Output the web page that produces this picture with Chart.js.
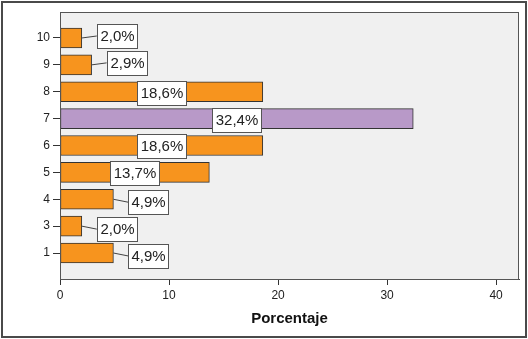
<!DOCTYPE html>
<html>
<head>
<meta charset="utf-8">
<script src="https://cdn.jsdelivr.net/npm/chart.js@4"></script>
<style>
  html, body { margin: 0; padding: 0; background: #fff; }
  #wrap { width: 528px; height: 339px; }
</style>
</head>
<body>
<div id="wrap"><canvas id="chart" width="528" height="339"></canvas></div>
<script>
// datos
const categorias = ["10", "9", "8", "7", "6", "5", "4", "3", "1"];
const porcentajes = [2.0, 2.9, 18.6, 32.4, 18.6, 13.7, 4.9, 2.0, 4.9];
const ticksX = [0, 10, 20, 30, 40];
const destacada = "7";

const NARANJA = "#F7941E";
const LILA = "#B899C8";
const FUENTE = "'Liberation Sans', Arial, sans-serif";

// fondo gris del área y marco exterior
const marcoPlugin = {
  id: "marco",
  beforeDraw(chart) {
    const { ctx, chartArea: a } = chart;
    ctx.save();
    ctx.fillStyle = "#F0F0F0";
    ctx.fillRect(a.left, a.top, a.right - a.left, a.bottom - a.top);
    ctx.restore();
  },
  afterDraw(chart) {
    const { ctx, chartArea: a } = chart;
    ctx.save();
    ctx.strokeStyle = "#555";
    ctx.lineWidth = 1;
    ctx.strokeRect(a.left + 0.5, a.top + 0.5, a.right - a.left - 1, a.bottom - a.top);
    ctx.lineWidth = 2;
    ctx.strokeStyle = "#4a4a4a";
    ctx.strokeRect(2, 2, chart.width - 4, chart.height - 4);
    ctx.restore();
  }
};

// etiquetas de porcentaje en cajas blancas
const etiquetasPlugin = {
  id: "etiquetas",
  afterDatasetsDraw(chart) {
    const { ctx } = chart;
    const meta = chart.getDatasetMeta(0);
    ctx.save();
    ctx.font = "15px " + FUENTE;
    ctx.textAlign = "center";
    ctx.textBaseline = "middle";
    meta.data.forEach((bar, i) => {
      const v = porcentajes[i];
      const txt = v.toFixed(1).replace(".", ",") + "%";
      const w = Math.round(ctx.measureText(txt).width) + 6;
      const h = 24;
      let cx, cy;
      if (v >= 10) {
        cx = (bar.x + bar.base) / 2;
        cy = bar.y + 1;
      } else {
        // etiqueta fuera de la barra con línea guía
        const dy = i < 4 ? -2 : 3;
        cx = bar.x + 15 + w / 2;
        cy = bar.y + dy;
        ctx.strokeStyle = "#444";
        ctx.lineWidth = 1;
        ctx.beginPath();
        ctx.moveTo(bar.x, bar.y);
        ctx.lineTo(cx - w / 2, cy);
        ctx.stroke();
      }
      const x0 = Math.round(cx - w / 2) + 0.5;
      const y0 = Math.round(cy - h / 2) + 0.5;
      ctx.fillStyle = "#fff";
      ctx.fillRect(x0, y0, w, h);
      ctx.strokeStyle = "#555";
      ctx.lineWidth = 1;
      ctx.strokeRect(x0, y0, w, h);
      ctx.fillStyle = "#222";
      ctx.fillText(txt, x0 + w / 2, y0 + h / 2 + 0.5);
    });
    ctx.restore();
  }
};

const puntos = porcentajes.map((v, i) => ({ x: v, y: i }));
const colores = categorias.map((c) => (c === destacada ? LILA : NARANJA));

new Chart(document.getElementById("chart"), {
  type: "bar",
  data: {
    labels: categorias,
    datasets: [{
      data: puntos,
      backgroundColor: colores,
      borderColor: "#333",
      borderWidth: 1,
      borderSkipped: false,
      barThickness: 20
    }]
  },
  options: {
    indexAxis: "y",
    responsive: false,
    animation: false,
    layout: { padding: { top: 12, right: 9, left: 0, bottom: 0 } },
    plugins: { legend: { display: false }, tooltip: { enabled: false } },
    scales: {
      x: {
        type: "linear",
        min: 0,
        max: 42.1,
        offset: false,
        afterFit(scale) { scale.height = 60; },
        afterBuildTicks(scale) { scale.ticks = ticksX.map((v) => ({ value: v })); },
        grid: { drawOnChartArea: false, offset: false, tickLength: 6, tickColor: "#333" },
        border: { color: "#444", width: 1 },
        ticks: { color: "#222", padding: 3, font: { size: 12, family: FUENTE } },
        title: {
          display: true,
          text: "Porcentaje",
          color: "#111",
          font: { size: 15, weight: "bold", family: FUENTE },
          padding: { top: 8, bottom: 11 }
        }
      },
      y: {
        type: "linear",
        reverse: true,
        offset: false,
        min: -0.967,
        max: 8.967,
        afterFit(scale) { scale.width = 60; },
        afterBuildTicks(scale) { scale.ticks = categorias.map((c, i) => ({ value: i })); },
        grid: { drawOnChartArea: false, offset: false, tickLength: 7, tickColor: "#333" },
        border: { color: "#444", width: 1 },
        ticks: {
          color: "#222",
          padding: 3,
          font: { size: 12, family: FUENTE },
          callback: (v) => categorias[v]
        }
      }
    }
  },
  plugins: [marcoPlugin, etiquetasPlugin]
});
</script>
</body>
</html>
